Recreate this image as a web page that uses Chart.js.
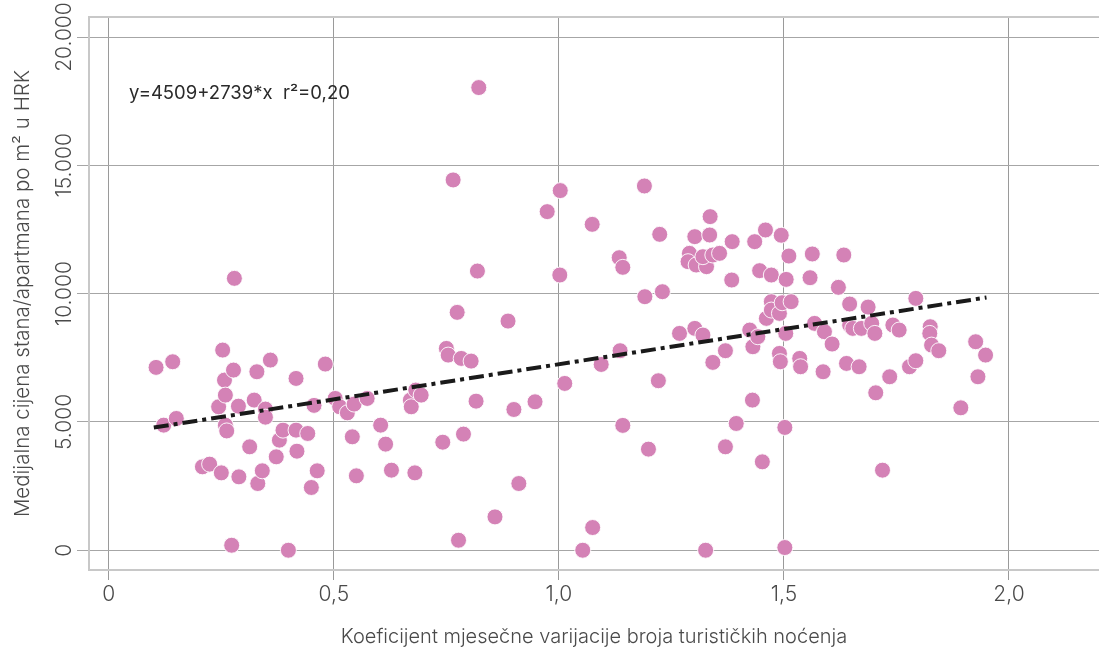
<!DOCTYPE html>
<html>
<head>
<meta charset="utf-8">
<script src="https://cdn.jsdelivr.net/npm/chart.js@4.4.0/dist/chart.umd.min.js"></script>
<style>
  html, body { margin: 0; padding: 0; background: #ffffff; }
  #wrap { width: 1099px; height: 654px; }
</style>
</head>
<body>
<div id="wrap"><canvas id="scatterChart" width="1099" height="654"></canvas></div>
<script>
// koeficijent varijacije (x) i medijalna cijena po m2 (y)
var xValues = [
  0.105, 0.142, 0.122, 0.150, 0.208, 0.224, 0.244, 0.253, 0.250, 0.257,
  0.259, 0.259, 0.262, 0.273, 0.277, 0.279, 0.288, 0.289, 0.313, 0.323,
  0.329, 0.331, 0.341, 0.348, 0.348, 0.359, 0.372, 0.379, 0.387, 0.399,
  0.416, 0.416, 0.418, 0.442, 0.450, 0.456, 0.463, 0.481, 0.503, 0.513,
  0.530, 0.541, 0.545, 0.550, 0.574, 0.604, 0.615, 0.628, 0.670, 0.672,
  0.682, 0.694, 0.680, 0.742,
  0.750, 0.754, 0.774, 0.783, 0.805, 0.788, 0.765, 0.777, 0.816, 0.819,
  0.822, 0.858, 0.887, 0.900, 0.911, 0.947, 0.974, 1.003, 1.002, 1.013,
  1.053, 1.074, 1.075, 1.094, 1.134, 1.136, 1.142, 1.142, 1.190, 1.191,
  1.199, 1.221, 1.224, 1.230, 1.268, 1.302, 1.320, 1.290, 1.287, 1.305,
  1.328, 1.320, 1.342, 1.357, 1.302, 1.335, 1.336, 1.326, 1.342, 1.370,
  1.370, 1.385, 1.384, 1.394,
  1.424, 1.430, 1.431, 1.435, 1.442, 1.446, 1.452, 1.459, 1.461, 1.472,
  1.472, 1.472, 1.490, 1.496, 1.494, 1.490, 1.492, 1.502, 1.502, 1.504,
  1.505, 1.511, 1.516, 1.535, 1.537, 1.558, 1.563, 1.568, 1.587, 1.590,
  1.607, 1.621, 1.633, 1.639, 1.646, 1.646, 1.653, 1.667, 1.672, 1.687,
  1.695, 1.702, 1.704, 1.719, 1.735, 1.742, 1.756, 1.779, 1.793, 1.793,
  1.825, 1.824, 1.828, 1.844, 1.893, 1.926, 1.931, 1.948
];
var yValues = [
  7125, 7345, 4875, 5135, 3250, 3355, 5590, 7800, 3015, 6630,
  6045, 4875, 4650, 195, 7020, 10595, 5615, 2860, 4030, 5850,
  6955, 2600, 3095, 5500, 5185, 7410, 3640, 4290, 4680, 0,
  6695, 4680, 3860, 4550, 2445, 5645, 3095, 7255, 5915, 5590,
  5355, 4420, 5695, 2900, 5915, 4875, 4135, 3120, 5850, 5590,
  6240, 6045, 3015, 4210,
  7865, 7605, 9270, 7475, 7370, 4525, 14430, 390, 5810, 10880,
  18030, 1300, 8930, 5485, 2600, 5785, 13195, 14015, 10725, 6500,
  0, 12700, 885, 7240, 11400, 7775, 11025, 4865, 14195, 9880,
  3940, 6605, 12310, 10075, 8450, 8645, 8385, 11570, 11245, 11115,
  11050, 11440, 11505, 11570, 12220, 12285, 13000, 0, 7320, 7775,
  4030, 12025, 10530, 4940,
  8580, 5850, 7930, 12025, 8320, 10895, 3445, 12480, 9035, 10725,
  9685, 9360, 9230, 9645, 12275, 7670, 7345, 4785, 105, 8450,
  10555, 11465, 9685, 7475, 7150, 10620, 11545, 8840, 6955, 8515,
  8035, 10245, 11505, 7280, 9595, 8775, 8645, 7150, 8645, 9475,
  8840, 8450, 6135, 3120, 6760, 8775, 8580, 7150, 7385, 9815,
  8710, 8450, 7995, 7775, 5550, 8125, 6760, 7605
];

// regresijski pravac iz jednadzbe na grafu
var trendX = [0.1, 1.95];
var trendIntercept = 4509;
var trendSlope = 2739;
var equationText = "y=4509+2739*x  r\u00b2=0,20";

var xTicks = [0, 0.5, 1, 1.5, 2];
var xTickLabels = ["0", "0,5", "1,0", "1,5", "2,0"];
var yTicks = [0, 5000, 10000, 15000, 20000];
var yTickLabels = ["0", "5.000", "10.000", "15.000", "20.000"];

var xTitle = "Koeficijent mjesečne varijacije broja turističkih noćenja";
var yTitle = "Medijalna cijena stana/apartmana po m\u00b2 u HRK";

var fontFamily = "Inter, 'Open Sans', sans-serif";
var textColor = "#4a4a4a";

var points = [];
for (var i = 0; i < xValues.length; i++) {
  points.push({ x: xValues[i], y: yValues[i] });
}
var trendPoints = trendX.map(function (x) {
  return { x: x, y: trendIntercept + trendSlope * x };
});

var extrasPlugin = {
  id: 'extras',
  beforeDatasetsDraw: function (chart) {
    var ctx = chart.ctx;
    var a = chart.chartArea;
    ctx.save();
    ctx.strokeStyle = "#c8c8c8";
    ctx.lineWidth = 2;
    ctx.beginPath();
    ctx.moveTo(a.right, a.top);
    ctx.lineTo(a.left, a.top);
    ctx.lineTo(a.left, a.bottom);
    ctx.lineTo(a.right, a.bottom);
    ctx.stroke();
    ctx.restore();
  },
  afterDraw: function (chart) {
    var ctx = chart.ctx;
    var yScale = chart.scales.y;
    ctx.save();
    ctx.fillStyle = textColor;
    ctx.font = "300 21px " + fontFamily;
    ctx.textAlign = "center";
    ctx.textBaseline = "middle";
    for (var i = 0; i < yTicks.length; i++) {
      var py = yScale.getPixelForValue(yTicks[i]);
      ctx.save();
      ctx.translate(65, py);
      ctx.rotate(-Math.PI / 2);
      ctx.fillText(yTickLabels[i], 0, 0);
      ctx.restore();
    }
    ctx.fillStyle = "#2a2a2a";
    ctx.font = "400 18.5px " + fontFamily;
    ctx.textAlign = "left";
    ctx.fillText(equationText, 129, 93);
    ctx.restore();
  }
};

var ctx = document.getElementById('scatterChart').getContext('2d');
var scatterChart = new Chart(ctx, {
  type: 'scatter',
  data: {
    datasets: [
      {
        label: 'trend',
        data: trendPoints,
        showLine: true,
        borderColor: '#1a1a1a',
        borderWidth: 4,
        borderDash: [15, 5, 4, 5],
        pointRadius: 0,
        fill: false,
        order: 0
      },
      {
        label: 'gradovi',
        data: points,
        backgroundColor: '#d482b6',
        borderColor: 'rgba(255,255,255,0.9)',
        borderWidth: 1,
        pointRadius: 8,
        order: 1
      }
    ]
  },
  options: {
    responsive: false,
    animation: false,
    layout: { autoPadding: false, padding: { top: 17, right: 0, left: 0, bottom: 0 } },
    plugins: {
      legend: { display: false },
      tooltip: { enabled: false }
    },
    scales: {
      x: {
        type: 'linear',
        min: -0.044,
        max: 2.2,
        afterBuildTicks: function (scale) {
          scale.ticks = xTicks.map(function (v) { return { value: v }; });
        },
        afterFit: function (scale) {
          scale.height = 84;
          scale.paddingLeft = 0;
          scale.paddingRight = 0;
        },
        grid: { color: '#9a9a9a', lineWidth: 1, tickLength: 10, drawTicks: true },
        border: { display: false },
        ticks: {
          color: textColor,
          font: { family: fontFamily, size: 21, weight: '300' },
          padding: 2,
          maxRotation: 0,
          callback: function (value) {
            var idx = xTicks.indexOf(value);
            return idx >= 0 ? xTickLabels[idx] : '';
          }
        },
        title: {
          display: true,
          text: xTitle,
          color: textColor,
          font: { family: fontFamily, size: 20, weight: '300' },
          padding: { top: 0, bottom: 5 }
        }
      },
      y: {
        type: 'linear',
        min: -770,
        max: 20780,
        afterBuildTicks: function (scale) {
          scale.ticks = yTicks.map(function (v) { return { value: v }; });
        },
        afterFit: function (scale) { scale.width = 89; },
        grid: { color: '#a6a6a6', lineWidth: 1, tickLength: 12, drawTicks: true },
        border: { display: false },
        ticks: { display: false },
        title: {
          display: true,
          text: yTitle,
          color: textColor,
          font: { family: fontFamily, size: 20.5, weight: '300' },
          padding: { top: 11, bottom: 0 }
        }
      }
    }
  },
  plugins: [extrasPlugin]
});
</script>
</body>
</html>
